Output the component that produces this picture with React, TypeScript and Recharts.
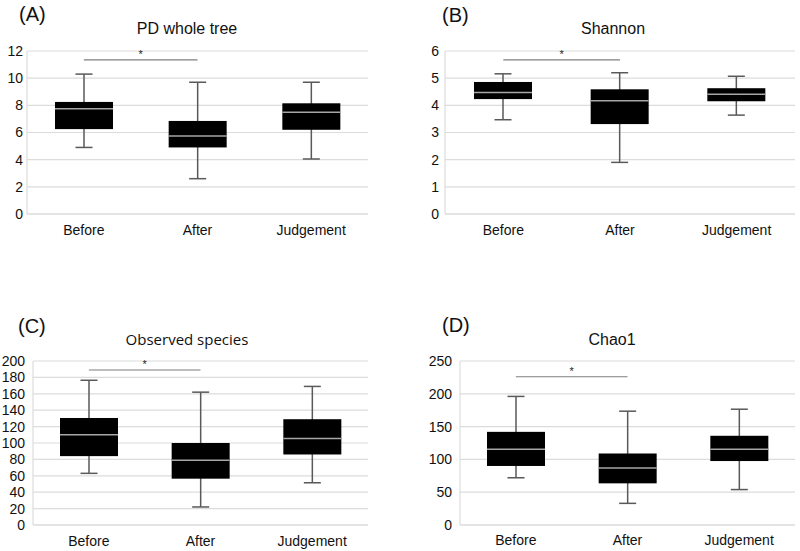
import React from 'react';
import { ComposedChart, Bar, XAxis, YAxis, CartesianGrid, ReferenceLine } from 'recharts';

const CATEGORIES = ['Before', 'After', 'Judgement'];

// (A) PD whole tree
const PD_MIN = [4.9, 2.6, 4.05];
const PD_Q1 = [6.25, 4.9, 6.2];
const PD_MED = [7.75, 5.75, 7.5];
const PD_Q3 = [8.25, 6.85, 8.15];
const PD_MAX = [10.3, 9.7, 9.7];
const PD_TICKS = [0, 2, 4, 6, 8, 10, 12];

// (B) Shannon
const SH_MIN = [3.47, 1.9, 3.64];
const SH_Q1 = [4.23, 3.31, 4.15];
const SH_MED = [4.47, 4.17, 4.41];
const SH_Q3 = [4.86, 4.59, 4.63];
const SH_MAX = [5.16, 5.2, 5.07];
const SH_TICKS = [0, 1, 2, 3, 4, 5, 6];

// (C) Observed species
const OS_MIN = [63, 22, 51.5];
const OS_Q1 = [84, 56.5, 86];
const OS_MED = [110, 79, 105.5];
const OS_Q3 = [130.5, 100, 129];
const OS_MAX = [176.5, 162, 169];
const OS_TICKS = [0, 20, 40, 60, 80, 100, 120, 140, 160, 180, 200];

// (D) Chao1
const CH_MIN = [72, 33, 54];
const CH_Q1 = [90, 63.5, 97.5];
const CH_MED = [115.5, 87, 115.5];
const CH_Q3 = [142, 109, 136];
const CH_MAX = [196, 173.5, 176.5];
const CH_TICKS = [0, 50, 100, 150, 200, 250];

// significance bar heights (Before vs After)
const SIG_Y = [11.35, 5.67, 189, 226];

const FONT = '"Liberation Sans", Arial, sans-serif';

function buildRows(min: number[], q1: number[], med: number[], q3: number[], max: number[]) {
  return CATEGORIES.map((name, i) => ({
    name,
    min: min[i],
    q1: q1[i],
    median: med[i],
    q3: q3[i],
    max: max[i],
    range: [min[i], max[i]],
  }));
}

function BoxShape(props: any) {
  const { x, y, width, height, payload } = props;
  if (!payload) return null;
  const top = Math.min(y, y + height);
  const h = Math.abs(height);
  const span = payload.max - payload.min;
  const py = (v: number) => top + ((payload.max - v) / span) * h;
  const cx = x + width / 2;
  const cap = 8.5;
  return (
    <g>
      <line x1={cx} x2={cx} y1={py(payload.max)} y2={py(payload.min)} stroke="#595959" strokeWidth={1.5} />
      <line x1={cx - cap} x2={cx + cap} y1={py(payload.max)} y2={py(payload.max)} stroke="#595959" strokeWidth={1.5} />
      <line x1={cx - cap} x2={cx + cap} y1={py(payload.min)} y2={py(payload.min)} stroke="#595959" strokeWidth={1.5} />
      <rect x={x} y={py(payload.q3)} width={width} height={py(payload.q1) - py(payload.q3)} fill="#000" />
      <line x1={x} x2={x + width} y1={py(payload.median)} y2={py(payload.median)} stroke="#a6a6a6" strokeWidth={1.5} />
    </g>
  );
}

interface PanelProps {
  left: number;
  top: number;
  width: number;
  height: number;
  margin: { top: number; right: number; bottom: number; left: number };
  yWidth: number;
  yTickSize: number;
  xHeight: number;
  xTickSize: number;
  ticks: number[];
  rows: ReturnType<typeof buildRows>;
  sig: number;
}

function Panel(p: PanelProps) {
  const tick = { fontSize: 14, fill: '#111', fontFamily: FONT };
  return (
    <div style={{ position: 'absolute', left: p.left, top: p.top }}>
      <ComposedChart width={p.width} height={p.height} data={p.rows} margin={p.margin}>
        <CartesianGrid vertical={false} stroke="#dcdcdc" strokeWidth={1.2} />
        <XAxis
          dataKey="name"
          tick={tick}
          tickLine={false}
          axisLine={{ stroke: '#dcdcdc', strokeWidth: 1.2 }}
          height={p.xHeight}
          tickSize={p.xTickSize}
          tickMargin={2}
        />
        <YAxis
          type="number"
          domain={[p.ticks[0], p.ticks[p.ticks.length - 1]]}
          ticks={p.ticks}
          interval={0}
          tick={tick}
          tickLine={false}
          axisLine={{ stroke: '#dcdcdc', strokeWidth: 1.2 }}
          width={p.yWidth}
          tickSize={p.yTickSize}
          tickMargin={2}
        />
        <Bar dataKey="range" barSize={58} shape={<BoxShape />} isAnimationActive={false} />
        <ReferenceLine
          segment={[{ x: 'Before', y: p.sig }, { x: 'After', y: p.sig }]}
          stroke="#7f7f7f"
          strokeWidth={1.2}
          label={{ value: '*', position: 'top', fontSize: 11, fill: '#222', fontFamily: FONT, offset: 2 }}
        />
      </ComposedChart>
    </div>
  );
}

function Label(props: { x: number; y: number; text: string; size: number; center?: boolean; font?: string }) {
  return (
    <div
      style={{
        position: 'absolute',
        left: props.x,
        top: props.y,
        transform: props.center ? 'translate(-50%, -50%)' : 'translate(0, -50%)',
        fontSize: props.size,
        fontFamily: props.font || FONT,
        color: '#111',
        whiteSpace: 'nowrap',
        lineHeight: 1,
      }}
    >
      {props.text}
    </div>
  );
}

export default function App() {
  const pd = buildRows(PD_MIN, PD_Q1, PD_MED, PD_Q3, PD_MAX);
  const sh = buildRows(SH_MIN, SH_Q1, SH_MED, SH_Q3, SH_MAX);
  const os = buildRows(OS_MIN, OS_Q1, OS_MED, OS_Q3, OS_MAX);
  const ch = buildRows(CH_MIN, CH_Q1, CH_MED, CH_Q3, CH_MAX);

  return (
    <div style={{ position: 'absolute', left: 0, top: 0, width: 800, height: 551, background: '#fff', overflow: 'hidden' }}>
      <Panel
        left={0} top={0} width={400} height={260}
        margin={{ top: 51, right: 32, bottom: 16, left: 0 }}
        yWidth={27} yTickSize={2} xHeight={30} xTickSize={9}
        ticks={PD_TICKS} rows={pd} sig={SIG_Y[0]}
      />
      <Panel
        left={400} top={0} width={400} height={260}
        margin={{ top: 51, right: 5, bottom: 16, left: 0 }}
        yWidth={45} yTickSize={4} xHeight={30} xTickSize={9}
        ticks={SH_TICKS} rows={sh} sig={SIG_Y[1]}
      />
      <Panel
        left={0} top={270} width={400} height={281}
        margin={{ top: 91, right: 32, bottom: 6, left: 0 }}
        yWidth={33} yTickSize={6} xHeight={20} xTickSize={9}
        ticks={OS_TICKS} rows={os} sig={SIG_Y[2]}
      />
      <Panel
        left={400} top={270} width={400} height={281}
        margin={{ top: 91, right: 5, bottom: 6, left: 0 }}
        yWidth={60} yTickSize={6} xHeight={20} xTickSize={8}
        ticks={CH_TICKS} rows={ch} sig={SIG_Y[3]}
      />

      <Label x={19} y={14} text="(A)" size={20} />
      <Label x={187} y={29} text="PD whole tree" size={16} center />
      <Label x={442} y={15} text="(B)" size={20} />
      <Label x={613} y={29} text="Shannon" size={16} center />
      <Label x={18} y={326} text="(C)" size={20} />
      <Label x={187} y={339} text="Observed species" size={15} center font='"Open Sans", sans-serif' />
      <Label x={442} y={325} text="(D)" size={20} />
      <Label x={612} y={340} text="Chao1" size={16} center />
    </div>
  );
}
